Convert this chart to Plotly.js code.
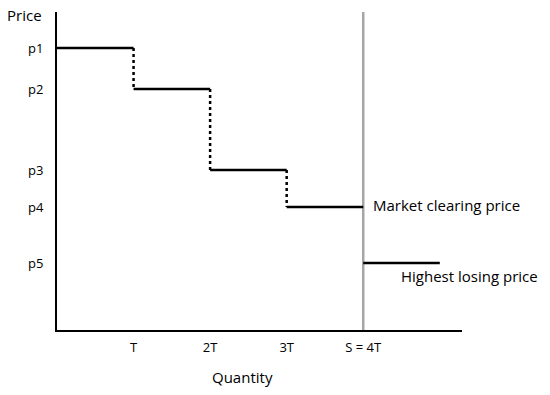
<!DOCTYPE html>
<html>
<head>
<meta charset="utf-8">
<script src="https://cdn.plot.ly/plotly-3.0.1.min.js"></script>
<style>
  html, body { margin: 0; padding: 0; background: #fff; }
  #chart { width: 550px; height: 395px; }
</style>
</head>
<body>
<div id="chart"></div>
<script>
// bid steps: each block of T units offered at a price
var priceLabels = ['p1', 'p2', 'p3', 'p4', 'p5'];
var prices = [282, 241, 160, 123, 67];
var stepStart = [0, 1, 2, 3, 4];
var stepEnd = [1, 2, 3, 4, 5];

var qtyTicks = [1, 2, 3, 4];
var qtyLabels = ['T', '2T', '3T', 'S = 4T'];

var supply = 4;

// horizontal solid steps
var hx = [], hy = [];
for (var i = 0; i < prices.length; i++) {
    hx.push(stepStart[i], stepEnd[i], null);
    hy.push(prices[i], prices[i], null);
}

// dotted drops between the accepted steps
var dx = [], dy = [];
for (var j = 0; j < 3; j++) {
    dx.push(stepEnd[j], stepEnd[j], null);
    dy.push(prices[j], prices[j + 1], null);
}

var steps = {
    x: hx, y: hy,
    mode: 'lines',
    line: {color: '#000', width: 2.5},
    hoverinfo: 'skip'
};

var drops = {
    x: dx, y: dy,
    mode: 'lines',
    line: {color: '#000', width: 2.5, dash: 'dot'},
    hoverinfo: 'skip'
};

var supplyLine = {
    x: [supply, supply], y: [0, 319],
    mode: 'lines',
    line: {color: '#a6a6a6', width: 2.5},
    hoverinfo: 'skip'
};

var data = [supplyLine, steps, drops];

var font = 'Open Sans, sans-serif';

var layout = {
    width: 550,
    height: 395,
    margin: {l: 57, r: 88, t: 12, b: 65},
    showlegend: false,
    paper_bgcolor: '#fff',
    plot_bgcolor: '#fff',
    font: {family: font, size: 13, color: '#000'},
    xaxis: {
        range: [0, 5.29],
        showgrid: false,
        zeroline: false,
        showline: true,
        linecolor: '#000',
        linewidth: 2,
        ticks: '',
        tickvals: qtyTicks,
        ticktext: qtyLabels,
        ticklabelstandoff: 4,
        tickfont: {size: 13}
    },
    yaxis: {
        range: [0, 318],
        showgrid: false,
        zeroline: false,
        showline: true,
        linecolor: '#000',
        linewidth: 2,
        ticks: '',
        tickvals: prices,
        ticktext: priceLabels,
        ticklabelstandoff: 9,
        tickfont: {size: 13}
    },
    annotations: [
        {
            text: 'Price', xref: 'paper', yref: 'paper',
            x: -0.128, y: 0.99, xanchor: 'left', yanchor: 'middle',
            showarrow: false, font: {size: 15}
        },
        {
            text: 'Quantity', xref: 'paper', yref: 'paper',
            x: 0.458, y: -0.148, xanchor: 'center', yanchor: 'middle',
            showarrow: false, font: {size: 15}
        },
        {
            text: 'Market clearing price', xref: 'x', yref: 'y',
            x: supply, y: prices[3] + 2, xanchor: 'left', yanchor: 'middle',
            xshift: 8, showarrow: false, font: {size: 15}
        },
        {
            text: 'Highest losing price', xref: 'x', yref: 'y',
            x: supply, y: prices[4] - 13, xanchor: 'left', yanchor: 'middle',
            xshift: 36, showarrow: false, font: {size: 15}
        }
    ]
};

Plotly.newPlot('chart', data, layout, {displayModeBar: false});
</script>
</body>
</html>
